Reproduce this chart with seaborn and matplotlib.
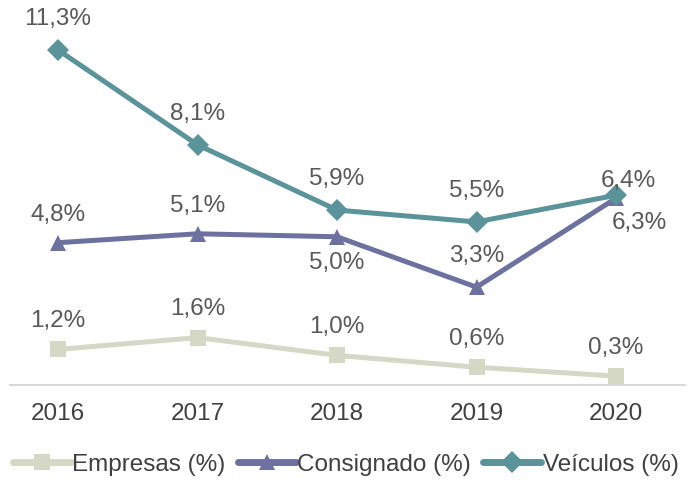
import matplotlib
matplotlib.use("Agg")
import matplotlib.pyplot as plt
import seaborn as sns
import pandas as pd

years = ["2016", "2017", "2018", "2019", "2020"]
empresas = [1.2, 1.6, 1.0, 0.6, 0.3]
consignado = [4.8, 5.1, 5.0, 3.3, 6.3]
veiculos = [11.3, 8.1, 5.9, 5.5, 6.4]
series_names = ["Empresas (%)", "Consignado (%)", "Veículos (%)"]
colors = ["#D6D8C6", "#6C71A0", "#5A9399"]
markers = ["s", "^", "D"]

sns.set_theme(style="white")
plt.rcParams["font.family"] = ["Liberation Sans", "DejaVu Sans"]

rows = []
for name, vals in zip(series_names, [empresas, consignado, veiculos]):
    for i, v in enumerate(vals):
        rows.append({"x": i, "val": v, "serie": name})
df = pd.DataFrame(rows)

fig = plt.figure(figsize=(6.91, 4.81), dpi=100)
ax = fig.add_axes([10 / 691, 95 / 481, 675 / 691, 386 / 481])

sns.lineplot(data=df, x="x", y="val", hue="serie", style="serie",
             hue_order=series_names, style_order=series_names,
             palette=colors, markers=dict(zip(series_names, markers)),
             dashes=False, linewidth=3.6, markersize=11, markeredgewidth=0,
             ax=ax, legend=True)

ax.set_xlim((10 - 58) / 139.5, (685 - 58) / 139.5)
ax.set_ylim(0, 386 / 29.65)
ax.set_xticks(range(len(years)))
ax.set_xticklabels(years, fontsize=17.5, color="#404040")
ax.set_yticks([])
ax.set_xlabel("")
ax.set_ylabel("")
ax.tick_params(axis="x", length=0, pad=12)
for s in ["top", "right", "left"]:
    ax.spines[s].set_visible(False)
ax.spines["bottom"].set_color("#D9D9D9")
ax.spines["bottom"].set_linewidth(1.5)

def fmt(v):
    return f"{v:.1f}".replace(".", ",") + "%"

tc = "#595959"
fs = 17.5
# Veículos labels above
for i, v in enumerate(veiculos):
    dx, dy = (0, 23)
    if i == 4:
        dx, dy = (9, 11)
    ax.annotate(fmt(v), (i, v), xytext=(dx, dy), textcoords="offset points",
                ha="center", va="center", fontsize=fs, color=tc)
# Consignado
cons_off = [(0, 21), (0, 21), (0, -18), (0, 23), (17, -17)]
for i, v in enumerate(consignado):
    dx, dy = cons_off[i]
    ax.annotate(fmt(v), (i, v), xytext=(dx, dy), textcoords="offset points",
                ha="center", va="center", fontsize=fs, color=tc)
# Empresas
for i, v in enumerate(empresas):
    ax.annotate(fmt(v), (i, v), xytext=(0, 21), textcoords="offset points",
                ha="center", va="center", fontsize=fs, color=tc)

leg = ax.legend(loc="center", bbox_to_anchor=(0.5, 1 - 465 / 481),
                bbox_transform=fig.transFigure, ncol=3, frameon=False,
                fontsize=17.5, handlelength=2.4, handletextpad=0.05,
                columnspacing=0.5, labelcolor="#404040")
for h in leg.legend_handles:
    h.set_linewidth(5)
    h.set_markersize(11)

fig.savefig("out.png", dpi=100)
